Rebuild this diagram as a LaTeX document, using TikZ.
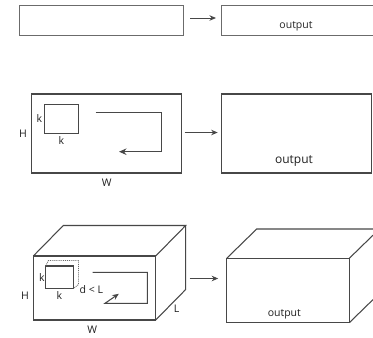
\documentclass[tikz,border=0pt]{standalone}
\usepackage{fontspec}
\setmainfont{Open Sans}
\usetikzlibrary{arrows.meta,calc}
\begin{document}
\begin{tikzpicture}[x=1pt,y=-1pt,
  line/.style={draw=black!72,line width=1.05pt},
  thinline/.style={draw=black!58,line width=0.9pt},
  arr/.style={line, -{Stealth[length=6.5pt,width=5.5pt]}},
  lbl/.style={inner sep=0pt,text=black!88,font=\fontsize{10.5}{11}\selectfont},
  outlbl/.style={inner sep=0pt,text=black!85,font=\fontsize{10.5}{11}\selectfont},
  box/.style={line,rectangle,inner sep=0pt}]
\useasboundingbox[fill=white] (0,0) rectangle (373,338);

% ---- row 1: a 1-D input turned into an output strip
\node[box,thinline,minimum width=164pt,minimum height=30pt] (in1) at (101,20) {};
\coordinate (out1w) at (221,20);
\draw[thinline] (373,5) -- (221,5) -- (221,35) -- (373,35);
\node[outlbl] (o1) at (296,26) {output};
\draw[arr,draw=black!72,line width=0.9pt,shorten <=7pt,shorten >=5pt] ([yshift=2pt]in1.east) -- ([yshift=2pt]out1w);

% ---- row 2: a 2-D input of size H x W scanned by a k x k window
\node[box,minimum width=150pt,minimum height=79pt] (in2) at (106.7,133.5) {};
\node[box,minimum width=34pt,minimum height=29.3pt] (k2) at (61.3,118.7) {};
\node[lbl,anchor=east] (k2l) at ([xshift=-1.5pt]k2.west) {k};
\node[lbl,anchor=north] (k2b) at ([yshift=-2.5pt]k2.south) {k};
\node[lbl,anchor=east] (h2) at ([xshift=-4pt]in2.west) {H};
\node[lbl,anchor=north] (w2) at ([yshift=-5pt]in2.south) {W};
\draw[line,-{Stealth[length=7.5pt,width=6.5pt]}] (95.7,112.7) -- (161.7,112.7) -- (161.7,151.7) -- (119,151.7);
\node[box,minimum width=150pt,minimum height=79pt] (out2) at (296.7,133.5) {};
\node[lbl,font=\fontsize{12}{13}\selectfont] (o2) at (294,161) {output};
\draw[arr,shorten <=2.5pt,shorten >=3.5pt] ([yshift=1pt]in2.east) -- ([yshift=1pt]out2.west);

% ---- row 3: a 3-D input of size H x W x L with a k x k x d window
\coordinate (a) at (33.3,256);
\coordinate (b) at (155.7,256);
\coordinate (c) at (155.7,320);
\coordinate (d) at (33.3,320);
\draw[line] (a) rectangle (c);
\draw[line] (a) -- ++(30,-30.5) -- ++(122.4,0) -- (b);
\draw[line] ($(a)+(152.4,-30.5)$) -- ++(0,64) -- (c);
\coordinate (sq1) at (45.7,266);
\coordinate (sq2) at (73.5,288.5);
\draw[line] (sq1) rectangle (sq2);
\draw[thinline,densely dotted] (sq1) -- (48.5,260.5) -- (78.5,260.5) -- (78.5,284.5) -- (73.5,288.5);
\node[lbl,anchor=east] (k3l) at (44.8,277.5) {k};
\node[lbl] (k3b) at (59.3,296) {k};
\node[lbl,anchor=west] (dl) at (79.5,290) {d < L};
\node[lbl] (h3) at (25,296) {H};
\node[lbl] (w3) at (92.3,330) {W};
\node[lbl] (l3) at (176.7,309) {L};
\draw[line,-{Stealth[length=6.5pt,width=5.5pt]}] (92.7,272.3) -- (147.3,272.3) -- (147.3,303.3) -- (105,303.3) -- (118.8,293.8);
\coordinate (in3e) at (155.7,278.5);

% output block, running past the right border
\coordinate (p) at (226.7,258.3);
\coordinate (q) at (349.3,258.3);
\coordinate (r) at (349.3,322.7);
\coordinate (s) at (226.7,322.7);
\draw[line] (p) rectangle (r);
\draw[line] (p) -- (256.7,229) -- (373,229);
\draw[line] (q) -- (373,235.2);
\draw[line] (r) -- (373,299.6);
\coordinate (out3w) at (226.7,278.5);
\node[lbl] (o3) at (284.3,314) {output};
\draw[arr,shorten <=34pt,shorten >=8.5pt] (in3e) -- (out3w);
\end{tikzpicture}
\end{document}
